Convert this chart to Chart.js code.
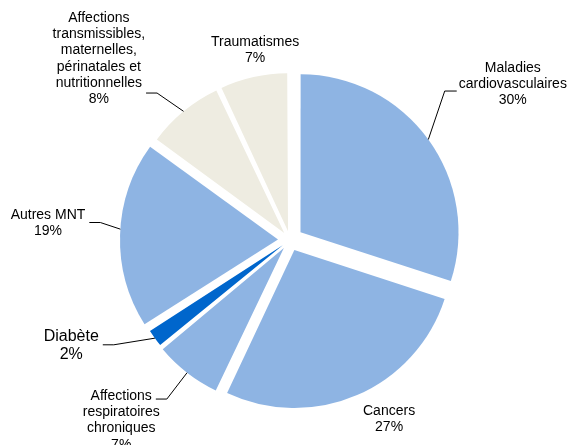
<!DOCTYPE html>
<html><head><meta charset="utf-8">
<script src="https://cdn.jsdelivr.net/npm/chart.js@4"></script>
<style>html,body{margin:0;padding:0;background:#fff;overflow:hidden}</style>
</head><body>
<canvas id="c" width="570" height="445"></canvas>
<script>
// ---- data ----
const categories = ["Maladies cardiovasculaires", "Cancers", "Affections respiratoires chroniques", "Diabète", "Autres MNT", "Affections transmissibles, maternelles, périnatales et nutritionnelles", "Traumatismes"];
const shares = [30, 27, 7, 2, 19, 8, 7];
const labelLines = [
  ["Maladies", "cardiovasculaires"],
  ["Cancers"],
  ["Affections", "respiratoires", "chroniques"],
  ["Diabète"],
  ["Autres MNT"],
  ["Affections", "transmissibles,", "maternelles,", "périnatales et", "nutritionnelles"],
  ["Traumatismes"]
];

// ---- styles ----
const sliceColors = ['#8EB4E3', '#8EB4E3', '#8EB4E3', '#0066CC', '#8EB4E3', '#EEECE1', '#EEECE1'];
const explodePx = [13, 11, 10, 9, 12, 9, 9];
const OFFSET_DIV = 4; // Chart.js arc draws offset/4
const RADIUS = 158;
// label placement: polar around pie centre (deg clockwise from north, px)
const labelLayout = [
  {angle: 55, dist: 272, leader: 'left', at: 1.25},
  {angle: 151.1, dist: 205},
  {angle: 223.1, dist: 247, leader: 'right', at: 0},
  {angle: 244.2, dist: 243, leader: 'right', at: 0.28, size: 16},
  {angle: 274, dist: 242.6, leader: 'right', at: 0.28, anchorShift: 2},
  {angle: 313.5, dist: 263.5, leader: 'right', at: 4.44},
  {angle: 349.6, dist: 193}
];
const FONT = '"Liberation Sans", Arial, sans-serif';

const fixRadius = {
  id: 'fixRadius',
  afterDatasetsUpdate(chart) {
    const meta = chart.getDatasetMeta(0);
    const R = meta.controller.outerRadius;
    meta.data.forEach((arc, i) => {
      const off = explodePx[i];
      const fix = 1 - Math.sin(Math.min(Math.PI, arc.circumference));
      arc.outerRadius = R - off * fix;
    });
  }
};

const sliceLabels = {
  id: 'sliceLabels',
  afterDraw(chart) {
    const ctx = chart.ctx;
    const meta = chart.getDatasetMeta(0);
    const R = meta.controller.outerRadius;
    meta.data.forEach((arc, i) => {
      const L = labelLayout[i];
      const size = L.size || 14;
      const lh = size === 14 ? 16.2 : 18;
      const lines = labelLines[i].concat([shares[i] + '%']);
      const a = (L.angle - 90) * Math.PI / 180;
      const cx = arc.x + Math.cos(a) * L.dist;
      const cy = arc.y + Math.sin(a) * L.dist;
      ctx.save();
      ctx.font = size + 'px ' + FONT;
      ctx.fillStyle = '#000';
      ctx.textAlign = 'center';
      ctx.textBaseline = 'middle';
      const n = lines.length;
      lines.forEach((t, k) => {
        ctx.fillText(t, cx, cy + (k - (n - 1) / 2) * lh);
      });
      if (L.leader) {
        const mid = (arc.startAngle + arc.endAngle) / 2;
        const sh = (L.anchorShift || 0) * Math.PI / 180;
        const ox = arc.x + Math.cos(mid) * explodePx[i];
        const oy = arc.y + Math.sin(mid) * explodePx[i];
        const px = ox + Math.cos(mid + sh) * R;
        const py = oy + Math.sin(mid + sh) * R;
        const li = Math.floor(L.at);
        const w = ctx.measureText(lines[li]).width;
        const ly = cy + (L.at - (n - 1) / 2) * lh + 3;
        let sx, ex;
        if (L.leader === 'left') { sx = cx - w / 2 - 2; ex = sx - 12; }
        else { sx = cx + w / 2 + 4; ex = sx + 11; }
        ctx.strokeStyle = '#000';
        ctx.lineWidth = 1;
        ctx.beginPath();
        ctx.moveTo(sx, ly);
        ctx.lineTo(ex, ly);
        ctx.lineTo(px, py);
        ctx.stroke();
      }
      ctx.restore();
    });
  }
};

new Chart(document.getElementById('c'), {
  type: 'pie',
  data: {
    labels: categories,
    datasets: [{
      data: shares,
      backgroundColor: sliceColors,
      borderWidth: 0,
      offset: explodePx.map(v => v * OFFSET_DIV)
    }]
  },
  options: {
    responsive: false,
    animation: false,
    events: [],
    radius: RADIUS,
    layout: {padding: {left: 10, right: 0, top: 45, bottom: 10}},
    plugins: {legend: {display: false}, tooltip: {enabled: false}}
  },
  plugins: [fixRadius, sliceLabels]
});
</script>
</body></html>
